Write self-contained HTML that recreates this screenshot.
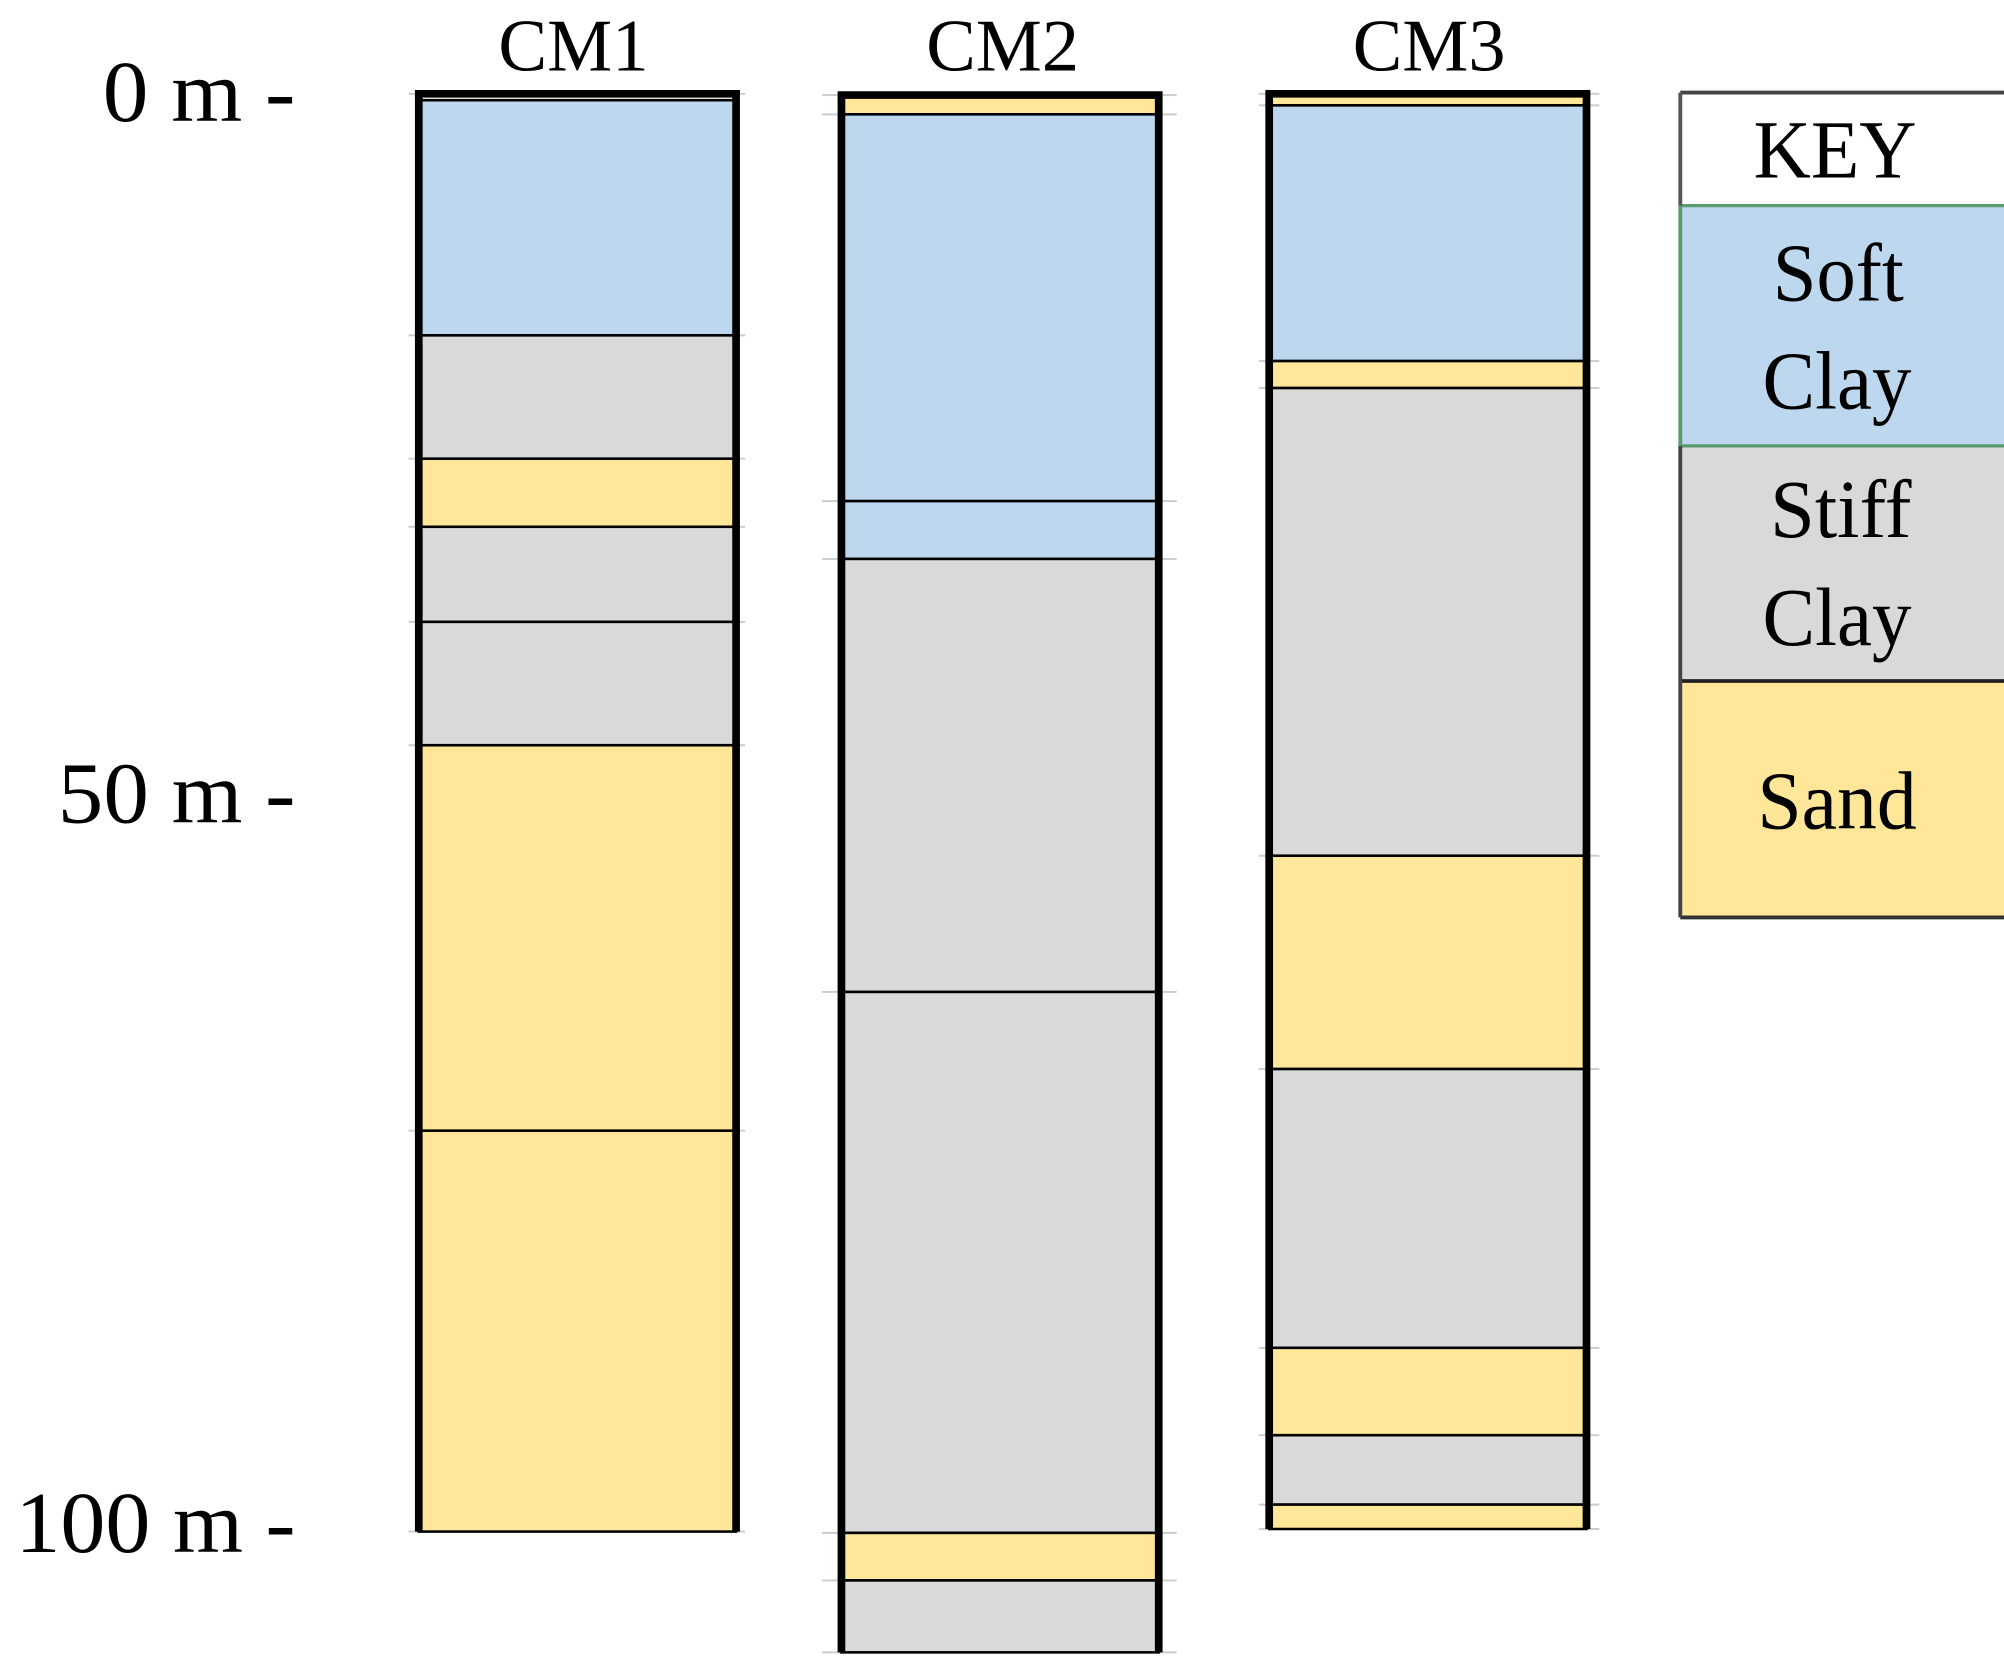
<!DOCTYPE html>
<html><head><meta charset="utf-8"><style>
html,body{margin:0;padding:0;background:#fff;}
svg{display:block;}
text{font-family:"Liberation Serif",serif;fill:#000;}
</style></head><body>
<svg width="2004" height="1671" viewBox="0 0 1560 1300.5" preserveAspectRatio="none" xmlns="http://www.w3.org/2000/svg">
<g stroke="#ccc" stroke-width="1.5">
<line x1="318" y1="73" x2="580" y2="73"/><line x1="318" y1="261" x2="580" y2="261"/><line x1="318" y1="357" x2="580" y2="357"/><line x1="318" y1="410" x2="580" y2="410"/><line x1="318" y1="484" x2="580" y2="484"/><line x1="318" y1="580" x2="580" y2="580"/><line x1="318" y1="880" x2="580" y2="880"/><line x1="318" y1="1192" x2="580" y2="1192"/>
<line x1="640" y1="74" x2="916" y2="74"/><line x1="640" y1="89" x2="916" y2="89"/><line x1="640" y1="390" x2="916" y2="390"/><line x1="640" y1="435" x2="916" y2="435"/><line x1="640" y1="772" x2="916" y2="772"/><line x1="640" y1="1193" x2="916" y2="1193"/><line x1="640" y1="1230" x2="916" y2="1230"/><line x1="640" y1="1286" x2="916" y2="1286"/>
<line x1="980" y1="73" x2="1245" y2="73"/><line x1="980" y1="82" x2="1245" y2="82"/><line x1="980" y1="281" x2="1245" y2="281"/><line x1="980" y1="302" x2="1245" y2="302"/><line x1="980" y1="666" x2="1245" y2="666"/><line x1="980" y1="832" x2="1245" y2="832"/><line x1="980" y1="1049" x2="1245" y2="1049"/><line x1="980" y1="1117" x2="1245" y2="1117"/><line x1="980" y1="1171" x2="1245" y2="1171"/><line x1="980" y1="1190" x2="1245" y2="1190"/>
</g>
<g stroke="#000" stroke-width="2">
<rect x="326" y="73" width="247" height="5" fill="#fff"/>
<rect x="326" y="78" width="247" height="183" fill="#BDD7EE"/>
<rect x="326" y="261" width="247" height="96" fill="#D9D9D9"/>
<rect x="326" y="357" width="247" height="53" fill="#FFE699"/>
<rect x="326" y="410" width="247" height="74" fill="#D9D9D9"/>
<rect x="326" y="484" width="247" height="96" fill="#D9D9D9"/>
<rect x="326" y="580" width="247" height="300" fill="#FFE699"/>
<rect x="326" y="880" width="247" height="312" fill="#FFE699"/>
<rect x="655" y="74" width="247" height="15" fill="#FFE699"/>
<rect x="655" y="89" width="247" height="301" fill="#BDD7EE"/>
<rect x="655" y="390" width="247" height="45" fill="#BDD7EE"/>
<rect x="655" y="435" width="247" height="337" fill="#D9D9D9"/>
<rect x="655" y="772" width="247" height="421" fill="#D9D9D9"/>
<rect x="655" y="1193" width="247" height="37" fill="#FFE699"/>
<rect x="655" y="1230" width="247" height="56" fill="#D9D9D9"/>
<rect x="988" y="73" width="247" height="9" fill="#FFE699"/>
<rect x="988" y="82" width="247" height="199" fill="#BDD7EE"/>
<rect x="988" y="281" width="247" height="21" fill="#FFE699"/>
<rect x="988" y="302" width="247" height="364" fill="#D9D9D9"/>
<rect x="988" y="666" width="247" height="166" fill="#FFE699"/>
<rect x="988" y="832" width="247" height="217" fill="#D9D9D9"/>
<rect x="988" y="1049" width="247" height="68" fill="#FFE699"/>
<rect x="988" y="1117" width="247" height="54" fill="#D9D9D9"/>
<rect x="988" y="1171" width="247" height="19" fill="#FFE699"/>
</g>
<g stroke="#000" stroke-width="6" fill="none">
<path d="M326 1192 V73 H573 V1192"/>
<path d="M655 1286 V74 H902 V1286"/>
<path d="M988 1190 V73 H1235 V1190"/>
</g>
<rect x="1308" y="72" width="252" height="88" fill="#fff"/>
<rect x="1308" y="160" width="252" height="187" fill="#BDD7EE"/>
<rect x="1308" y="347" width="252" height="183" fill="#D9D9D9"/>
<rect x="1308" y="530" width="252" height="184" fill="#FFE699"/>
<line x1="1308" y1="72" x2="1560" y2="72" stroke="#444" stroke-width="3"/>
<line x1="1308" y1="160" x2="1560" y2="160" stroke="#5a9a70" stroke-width="2.5"/>
<line x1="1308" y1="347" x2="1560" y2="347" stroke="#5a9a70" stroke-width="2.5"/>
<line x1="1308" y1="530" x2="1560" y2="530" stroke="#222" stroke-width="3"/>
<line x1="1308" y1="714" x2="1560" y2="714" stroke="#333" stroke-width="3"/>
<line x1="1308" y1="72" x2="1308" y2="160" stroke="#555" stroke-width="3"/>
<line x1="1308" y1="160" x2="1308" y2="347" stroke="#5a9a70" stroke-width="3"/>
<line x1="1308" y1="347" x2="1308" y2="714" stroke="#444" stroke-width="3"/>
<g font-size="64">
<text x="1365" y="138" textLength="127" lengthAdjust="spacingAndGlyphs">KEY</text>
<text x="1380" y="234" textLength="102" lengthAdjust="spacingAndGlyphs">Soft</text>
<text x="1372" y="318" textLength="116" lengthAdjust="spacingAndGlyphs">Clay</text>
<text x="1378" y="418" textLength="110" lengthAdjust="spacingAndGlyphs">Stiff</text>
<text x="1372" y="502" textLength="116" lengthAdjust="spacingAndGlyphs">Clay</text>
<text x="1368" y="645" textLength="124" lengthAdjust="spacingAndGlyphs">Sand</text>
</g>
<g font-size="58">
<text x="388" y="55" textLength="117" lengthAdjust="spacingAndGlyphs">CM1</text>
<text x="721" y="55" textLength="119" lengthAdjust="spacingAndGlyphs">CM2</text>
<text x="1053" y="55" textLength="119" lengthAdjust="spacingAndGlyphs">CM3</text>
</g>
<g font-size="68">
<text x="80" y="94" textLength="150" lengthAdjust="spacingAndGlyphs">0 m -</text>
<text x="45" y="640" textLength="185" lengthAdjust="spacingAndGlyphs">50 m -</text>
<text x="12" y="1208" textLength="218" lengthAdjust="spacingAndGlyphs">100 m -</text>
</g>
</svg>
</body></html>
